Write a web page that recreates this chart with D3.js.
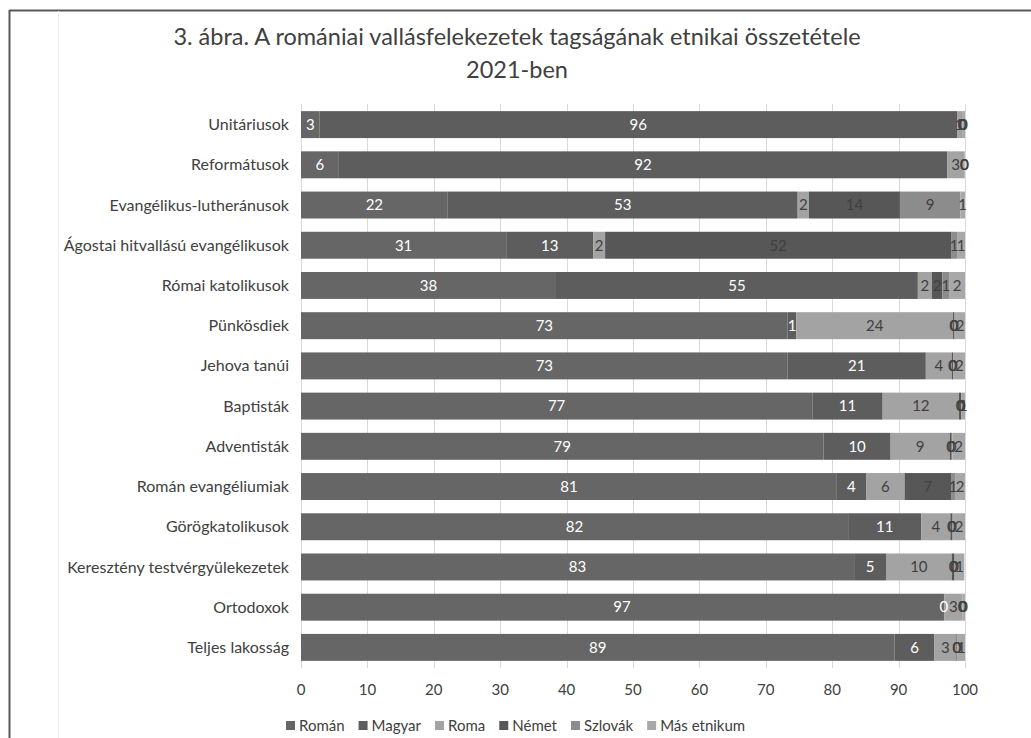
<!DOCTYPE html>
<meta charset="utf-8"/>
<head>
<style>
  body { margin:0; background:#fff; }
  text { font-family: Lato, "Open Sans", sans-serif; }
</style>
<script src="https://d3js.org/d3.v7.min.js"></script>
</head>
<body>
<script>
// categories, top to bottom
var categories = ["Unitáriusok", "Reformátusok", "Evangélikus-lutheránusok",
  "Ágostai hitvallású evangélikusok", "Római katolikusok", "Pünkösdiek",
  "Jehova tanúi", "Baptisták", "Adventisták", "Román evangéliumiak",
  "Görögkatolikusok", "Keresztény testvérgyülekezetek", "Ortodoxok", "Teljes lakosság"];

var series = ["Román", "Magyar", "Roma", "Német", "Szlovák", "Más etnikum"];

// percentages per category
var roman   = [2.8, 5.7, 22.1, 30.9, 38.4, 73.3, 73.3, 77.0, 78.7, 80.7, 82.4, 83.3, 96.7, 89.4];
var magyar  = [96.0, 91.6, 52.7, 13.1, 54.5, 1.3, 20.8, 10.6, 10.1, 4.4, 11.0, 4.8, 0.2, 6.0];
var roma    = [0.7, 2.6, 1.7, 1.8, 2.1, 23.6, 3.9, 11.5, 8.9, 5.8, 4.4, 9.9, 2.7, 3.3];
var nemet   = [0.1, 0.0, 13.7, 52.1, 1.6, 0.2, 0.2, 0.3, 0.3, 7.0, 0.3, 0.4, 0.0, 0.1];
var szlovak = [0.0, 0.0, 9.1, 0.9, 1.0, 0.1, 0.1, 0.1, 0.1, 0.6, 0.1, 0.1, 0.0, 0.1];
var mas     = [0.4, 0.1, 0.7, 1.2, 2.4, 1.5, 1.7, 0.5, 1.9, 1.5, 1.8, 1.4, 0.4, 1.1];

var xTicks = [0, 10, 20, 30, 40, 50, 60, 70, 80, 90, 100];

var colors = ["#666666", "#5d5d5d", "#a3a3a3", "#575757", "#8c8c8c", "#a8a8a8"];
var labelColors = ["#ffffff", "#ffffff", "#404040", "#404040", "#404040", "#404040"];

var cols = [roman, magyar, roma, nemet, szlovak, mas];
var data = categories.map(function(c, i) {
  var row = {cat: c};
  series.forEach(function(s, j) { row[s] = cols[j][i]; });
  return row;
});

var width = 1031, height = 738;
var svg = d3.select("body").append("svg")
  .attr("width", width)
  .attr("height", height);

// outer frame of the figure
svg.append("line").attr("x1", 9.5).attr("x2", 9.5).attr("y1", 10).attr("y2", height)
  .attr("stroke", "#595959").attr("stroke-width", 2);
svg.append("line").attr("x1", 9).attr("x2", width).attr("y1", 10.5).attr("y2", 10.5)
  .attr("stroke", "#595959").attr("stroke-width", 2);
svg.append("line").attr("x1", 58.5).attr("x2", 58.5).attr("y1", 11).attr("y2", height)
  .attr("stroke", "#eeeeee").attr("stroke-width", 1);

// title
var title = svg.append("text")
  .attr("text-anchor", "middle")
  .attr("fill", "#404040")
  .style("font-size", "23.5px");
title.append("tspan").attr("x", 517).attr("y", 45)
  .text("3. ábra. A romániai vallásfelekezetek tagságának etnikai összetétele");
title.append("tspan").attr("x", 517).attr("y", 78).text("2021-ben");

var x = d3.scaleLinear().domain([0, 100]).range([301, 965]);
var y = d3.scaleBand().domain(categories).range([104.5, 667.5]).paddingInner(0.33).paddingOuter(0.165);

// grid
svg.append("g").selectAll("line")
  .data(xTicks)
  .enter().append("line")
  .attr("x1", function(d) { return Math.round(x(d)) + 0.5; })
  .attr("x2", function(d) { return Math.round(x(d)) + 0.5; })
  .attr("y1", 104).attr("y2", 668)
  .attr("stroke", "#d9d9d9");

var stack = d3.stack().keys(series);
var stacked = stack(data);

var layers = svg.append("g").selectAll("g")
  .data(stacked)
  .enter().append("g")
  .attr("fill", function(d, i) { return colors[i]; });

layers.selectAll("rect")
  .data(function(d) { return d; })
  .enter().append("rect")
  .attr("x", function(d) { return x(d[0]); })
  .attr("y", function(d) { return y(d.data.cat); })
  .attr("width", function(d) { return x(d[1]) - x(d[0]); })
  .attr("height", y.bandwidth());

// data labels
stacked.forEach(function(layer, i) {
  svg.append("g").selectAll("text")
    .data(layer)
    .enter().append("text")
    .attr("x", function(d) { return (x(d[0]) + x(d[1])) / 2; })
    .attr("y", function(d) { return y(d.data.cat) + y.bandwidth() / 2; })
    .attr("dy", "0.35em")
    .attr("text-anchor", "middle")
    .attr("fill", labelColors[i])
    .style("font-size", "15px")
    .text(function(d) { return d3.format(".0f")(d[1] - d[0]); });
});

// category labels
svg.append("g").selectAll("text")
  .data(categories)
  .enter().append("text")
  .attr("x", 289)
  .attr("y", function(d) { return y(d) + y.bandwidth() / 2; })
  .attr("dy", "0.35em")
  .attr("text-anchor", "end")
  .attr("fill", "#404040")
  .style("font-size", "16px")
  .text(function(d) { return d; });

// x tick labels
svg.append("g").selectAll("text")
  .data(xTicks)
  .enter().append("text")
  .attr("x", function(d) { return x(d); })
  .attr("y", 695)
  .attr("text-anchor", "middle")
  .attr("fill", "#404040")
  .style("font-size", "15px")
  .text(function(d) { return d; });

// legend
var legend = svg.append("g");
var lx = 286;
series.forEach(function(s, i) {
  legend.append("rect").attr("x", lx).attr("y", 721).attr("width", 9).attr("height", 9)
    .attr("fill", colors[i]);
  var t = legend.append("text").attr("x", lx + 13).attr("y", 730.5)
    .attr("fill", "#404040")
    .style("font-size", "15px")
    .text(s);
  lx += 13 + t.node().getComputedTextLength() + 14;
});
</script>
</body>
